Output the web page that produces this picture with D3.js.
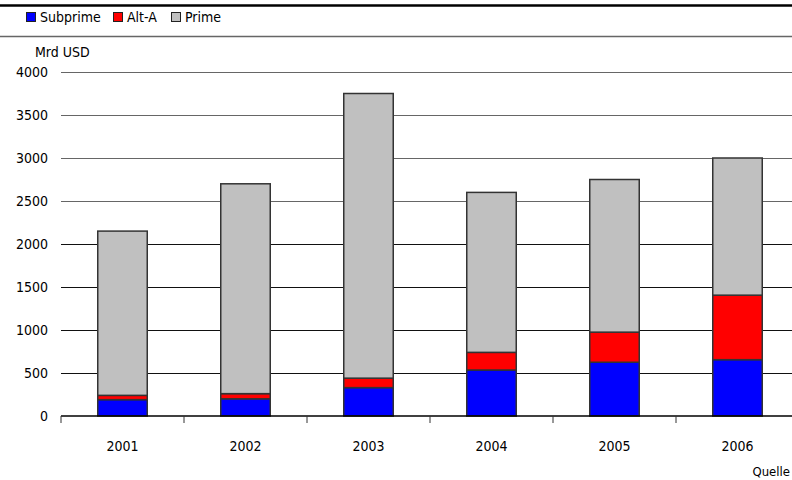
<!DOCTYPE html>
<html><head><meta charset="utf-8">
<script src="https://cdn.jsdelivr.net/npm/d3@7"></script>
<style>body{margin:0;background:#fff}svg{display:block}text{font-family:"DejaVu Sans Condensed","DejaVu Sans",sans-serif;font-size:14px;fill:#000}</style>
</head><body><svg id="c" width="792" height="480"></svg>
<script>
const years = ["2001","2002","2003","2004","2005","2006"];
const subprime = [190, 200, 330, 535, 625, 655];
const altA = [50, 60, 110, 205, 350, 750];
const prime = [1910, 2440, 3310, 1860, 1775, 1595];
const yTicks = [0,500,1000,1500,2000,2500,3000,3500,4000];
const seriesNames = ["Subprime","Alt-A","Prime"];
const colors = ["#0000ff","#ff0000","#c0c0c0"];

const svg = d3.select("#c");
const x = d3.scaleBand().domain(years).range([61, 799]).paddingInner(0).paddingOuter(0);
const y = d3.scaleLinear().domain([0, 4000]).range([416, 72]);

// header lines
svg.append("line").attr("x1",0).attr("x2",792).attr("y1",5.5).attr("y2",5.5).attr("stroke","#000").attr("stroke-width",2.5);
svg.append("line").attr("x1",0).attr("x2",792).attr("y1",36.5).attr("y2",36.5).attr("stroke","#666").attr("stroke-width",1.5);

// legend
const legX = [26, 113, 171];
seriesNames.forEach((n,i)=>{
  svg.append("rect").attr("x",legX[i]+0.5).attr("y",12.5).attr("width",9).attr("height",9).attr("fill",colors[i]).attr("stroke","#222").attr("stroke-width",1);
  svg.append("text").attr("x",legX[i]+14).attr("y",22).text(n);
});

svg.append("text").attr("x",35).attr("y",57).text("Mrd USD");

// grid
svg.append("g").selectAll("line").data(yTicks.filter(d=>d>0)).join("line")
  .attr("x1",61).attr("x2",792).attr("y1",d=>Math.round(y(d))+0.5).attr("y2",d=>Math.round(y(d))+0.5)
  .attr("stroke",d=>d>=2500?"#666":"#111").attr("stroke-width",1.2);

// y labels
svg.append("g").selectAll("text").data(yTicks).join("text")
  .attr("x",48).attr("y",d=>y(d)+5).attr("text-anchor","end").text(d=>d);

// stacked bars
const rows = years.map((yr,i)=>({year:yr, Subprime:subprime[i], "Alt-A":altA[i], Prime:prime[i]}));
const stack = d3.stack().keys(seriesNames)(rows);
const bw = 49.5;
stack.forEach((layer,k)=>{
  svg.append("g").selectAll("rect").data(layer).join("rect")
    .attr("x",d=>x(d.data.year)+x.bandwidth()/2-bw/2)
    .attr("y",d=>y(d[1]))
    .attr("width",bw)
    .attr("height",d=>y(d[0])-y(d[1]))
    .attr("fill",colors[k]).attr("stroke","#333").attr("stroke-width",1.5);
});

// x axis
const xa = svg.append("g").attr("transform","translate(0,416)");
xa.append("line").attr("x1",61).attr("x2",792).attr("y1",0).attr("y2",0).attr("stroke","#000").attr("stroke-width",1.5);
xa.selectAll("line.t").data(years).join("line").attr("class","t")
  .attr("x1",d=>x(d)).attr("x2",d=>x(d)).attr("y1",0).attr("y2",7).attr("stroke","#333").attr("stroke-width",1);
xa.selectAll("text").data(years).join("text")
  .attr("x",d=>x(d)+x.bandwidth()/2).attr("y",35).attr("text-anchor","middle").text(d=>d);

svg.append("text").attr("x",790).attr("y",476).attr("text-anchor","end").style("font-size","13px").text("Quelle");
</script></body></html>
